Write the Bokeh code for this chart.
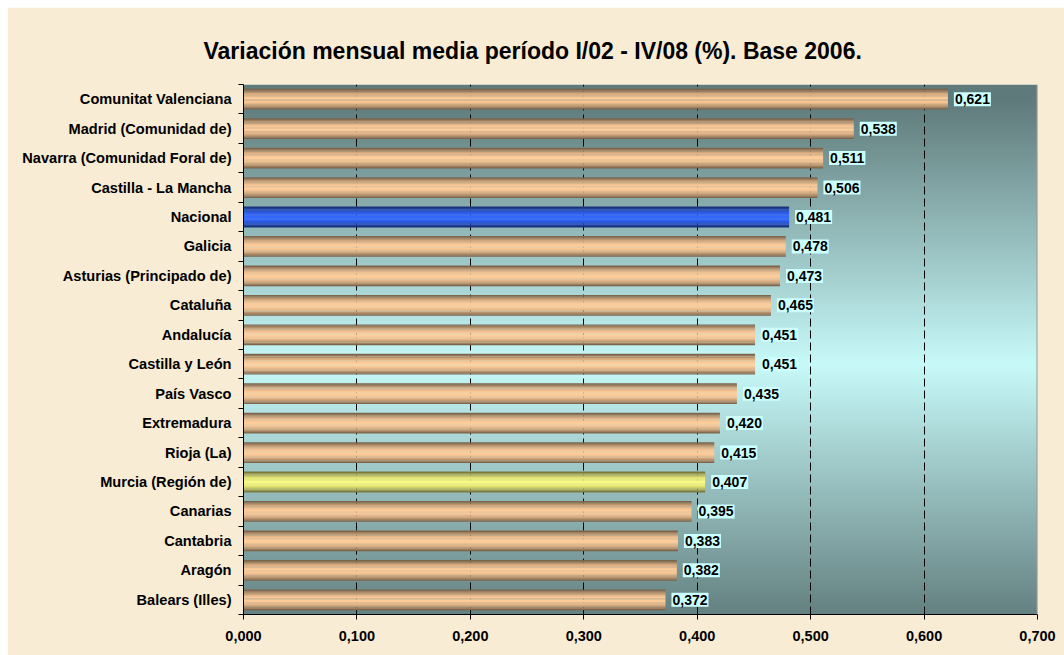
import numpy as np
from bokeh.plotting import figure
from bokeh.models import (FixedTicker, CustomJSTickFormatter, ColumnDataSource,
                          Range1d, Span)
from bokeh.core.properties import value
from bokeh.embed import file_html
from bokeh.resources import INLINE

# ---------------- data ----------------
REGIONS = ["Comunitat Valenciana", "Madrid (Comunidad de)", "Navarra (Comunidad Foral de)",
           "Castilla - La Mancha", "Nacional", "Galicia", "Asturias (Principado de)",
           "Cataluña", "Andalucía", "Castilla y León", "País Vasco", "Extremadura",
           "Rioja (La)", "Murcia (Región de)", "Canarias", "Cantabria", "Aragón",
           "Balears (Illes)"]
VALUES = [0.621, 0.538, 0.511, 0.506, 0.481, 0.478, 0.473, 0.465, 0.451, 0.451,
          0.435, 0.420, 0.415, 0.407, 0.395, 0.383, 0.382, 0.372]
X_TICKS = [0.0, 0.1, 0.2, 0.3, 0.4, 0.5, 0.6, 0.7]
GRID_TICKS = [0.1, 0.2, 0.3, 0.4, 0.5, 0.6]
TITLE = "Variación mensual media período I/02 - IV/08 (%). Base 2006."

# ---------------- style ----------------
FONT = "Liberation Sans"
PAGE_BG = "#f8ecd4"
PEACH = (255, 204, 153)
BLUE = (51, 102, 255)
YELLOW = (250, 250, 128)
HIGHLIGHT = {"Nacional": BLUE, "Murcia (Región de)": YELLOW}
BG_DARK = np.array([95, 122, 122], dtype=float)
BG_LIGHT = np.array([200, 250, 250], dtype=float)
X_MAX = X_TICKS[-1]
BAR_H = 0.7
N_SLICES = 16

n = len(REGIONS)
pos = [n - 1 - i for i in range(n)]

p = figure(width=1057, height=648, output_backend="svg", toolbar_location=None,
           x_range=Range1d(0, X_MAX), y_range=Range1d(-0.5, n - 0.5),
           min_border_left=236, min_border_right=27, min_border_top=77,
           min_border_bottom=41, border_fill_color=PAGE_BG,
           background_fill_color=PAGE_BG, outline_line_color=None,
           margin=(7, 0, 0, 7))

# title
p.title.text = TITLE
p.title.text_font = FONT
p.title.text_font_size = "23px"
p.title.text_font_style = "bold"
p.title.text_color = "black"
p.title.align = "left"
p.title.offset = -40
p.title.standoff = 42

# plot-area vertical gradient background
H = 360
ys = -0.5 + (np.arange(H) + 0.5) * n / H
f = np.clip(np.abs(ys - 8.0) / 9.0, 0, 1)
img = np.zeros((H, 1), dtype=np.uint32)
view = img.view(dtype=np.uint8).reshape((H, 1, 4))
for c in range(3):
    view[:, 0, c] = (BG_LIGHT[c] + (BG_DARK[c] - BG_LIGHT[c]) * f).astype(np.uint8)
view[:, 0, 3] = 255
p.image_rgba(image=[img], x=0, y=-0.5, dw=X_MAX, dh=n, level="image")

# grid
p.xgrid.ticker = FixedTicker(ticks=GRID_TICKS)
p.xgrid.grid_line_color = "black"
p.xgrid.grid_line_dash = "8 4"
p.xgrid.grid_line_width = 1
p.ygrid.visible = False

# bars with cylindrical shading
def shade(rgb, fr):
    return "#%02x%02x%02x" % tuple(int(round(ch * (0.42 + 0.58 * fr))) for ch in rgb)

base_cols = [HIGHLIGHT.get(r, PEACH) for r in REGIONS]
for k in range(N_SLICES):
    frac = (k + 0.5) / N_SLICES
    t = abs(2 * frac - 1)
    fr = 1 - t ** 2
    off = -BAR_H / 2 + frac * BAR_H
    src = ColumnDataSource(dict(y=[pp + off for pp in pos], right=VALUES,
                                color=[shade(c, fr) for c in base_cols]))
    p.hbar(y="y", left=0, right="right", height=BAR_H / N_SLICES * 1.15,
           fill_color="color", line_color=None, source=src)

# right border of plot
p.add_layout(Span(location=X_MAX, dimension="height", line_color="#9a9a9a", line_width=2))

# data labels (text glyph with light cyan box)
lab_src = ColumnDataSource(dict(x=VALUES, y=pos,
                                text=[f"{v:.3f}".replace(".", ",") for v in VALUES]))
p.text(x="x", y="y", text="text", source=lab_src, x_offset=6,
       text_baseline="middle", text_align="left",
       text_font=value(FONT), text_font_style="bold",
       text_font_size=value("14px"), text_color="black",
       background_fill_color="#ccffff", padding=(1, 2))

# x axis
xa = p.xaxis[0]
xa.ticker = FixedTicker(ticks=X_TICKS)
xa.formatter = CustomJSTickFormatter(code="return tick.toFixed(3).replace('.', ',');")
xa.major_tick_out = 5
xa.major_tick_in = 0
xa.minor_tick_out = 0
xa.minor_tick_in = 0
xa.major_label_standoff = 11
xa.axis_line_color = "black"
xa.major_tick_line_color = "black"
xa.major_label_text_font = FONT
xa.major_label_text_font_style = "bold"
xa.major_label_text_font_size = "14.5px"
xa.major_label_text_color = "black"

# y axis
ya = p.yaxis[0]
ya.ticker = FixedTicker(ticks=pos, minor_ticks=[k - 0.5 for k in range(n + 1)])
ya.major_label_overrides = {pp: r for pp, r in zip(pos, REGIONS)}
ya.major_tick_out = 0
ya.major_tick_in = 0
ya.minor_tick_out = 5
ya.minor_tick_in = 0
ya.minor_tick_line_color = "black"
ya.major_label_standoff = 7
ya.axis_line_color = "black"
ya.major_label_text_font = FONT
ya.major_label_text_font_style = "bold"
ya.major_label_text_font_size = "14.6px"
ya.major_label_text_color = "black"

open("out.html", "w").write(file_html(p, INLINE))
